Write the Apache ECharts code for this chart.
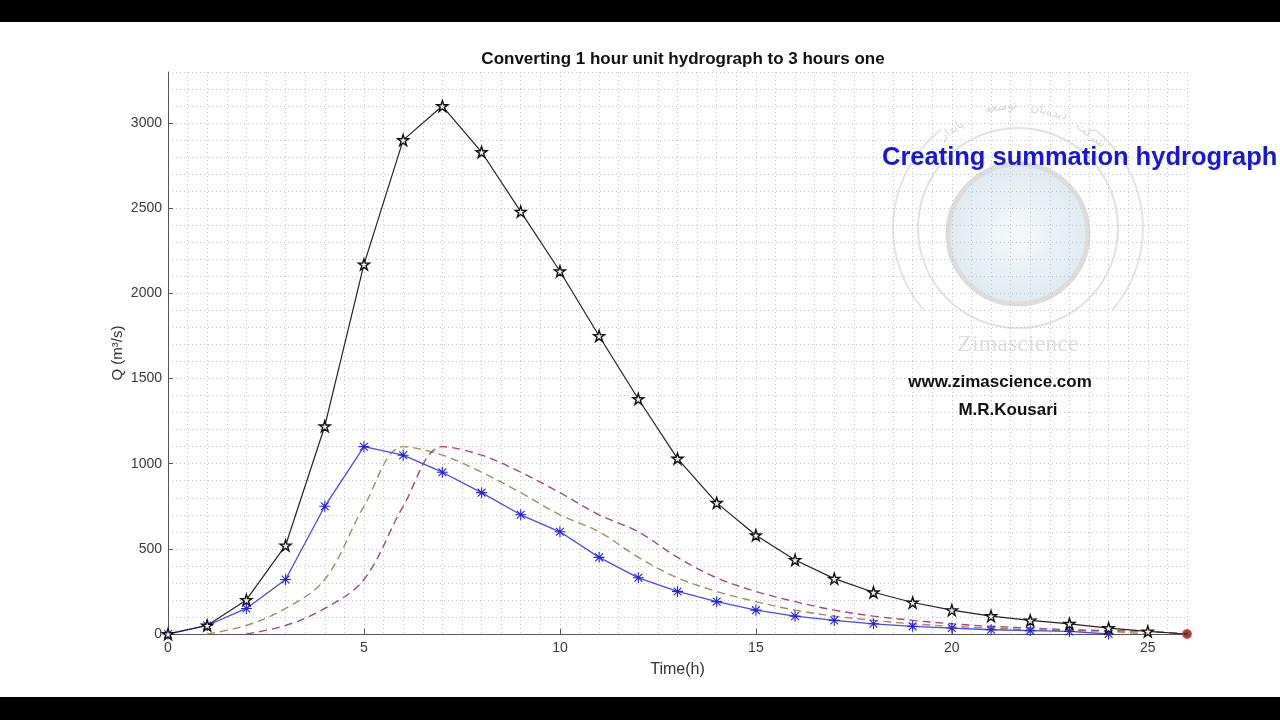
<!DOCTYPE html>
<html>
<head>
<meta charset="utf-8">
<script src="https://cdn.jsdelivr.net/npm/echarts@6/dist/echarts.min.js"></script>
<style>
html,body{margin:0;padding:0;background:#000;}
#c{width:1280px;height:720px;}
</style>
</head>
<body>
<div id="c"></div>
<script>
// ---- data ----
var hours = [0,1,2,3,4,5,6,7,8,9,10,11,12,13,14,15,16,17,18,19,20,21,22,23,24,25,26];
// 1-hour unit hydrograph (blue, t = 0..24)
var uh1Times = [0,1,2,3,4,5,6,7,8,9,10,11,12,13,14,15,16,17,18,19,20,21,22,23,24];
var uh1Q = [0,50,150,320,750,1100,1050,950,830,700,600,450,330,250,190,140,105,80,60,45,35,25,20,15,0];
// lagged by 1 hour (brown dashed, t = 1..25)
var lag1Times = [1,2,3,4,5,6,7,8,9,10,11,12,13,14,15,16,17,18,19,20,21,22,23,24,25];
var lag1Q = [0,50,150,320,750,1100,1050,950,830,700,600,450,330,250,190,140,105,80,60,45,35,25,20,15,0];
// lagged by 2 hours (purple dashed, t = 2..26)
var lag2Times = [2,3,4,5,6,7,8,9,10,11,12,13,14,15,16,17,18,19,20,21,22,23,24,25,26];
var lag2Q = [0,50,150,320,750,1100,1050,950,830,700,600,450,330,250,190,140,105,80,60,45,35,25,20,15,0];
// summation hydrograph (black stars, t = 0..26; last point has no star)
var sumQ = [0,50,200,520,1220,2170,2900,3100,2830,2480,2130,1750,1380,1030,770,580,435,325,245,185,140,105,80,60,35,15,0];
// end point marker (red circle)
var endTimes = [26];
var endQ = [0];
// axis ticks
var xTicks = [0,5,10,15,20,25];
var yTicks = [0,500,1000,1500,2000,2500,3000];

function pairs(ts, vs){ return ts.map(function(t,i){ return [t, vs[i]]; }); }

var asterisk = 'path://M0 9L20 9L20 11L0 11Z M9 0L11 0L11 20L9 20Z M2.2 3.6L3.6 2.2L17.8 16.4L16.4 17.8Z M16.4 2.2L17.8 3.6L3.6 17.8L2.2 16.4Z';
var pentagram = 'path://M10 0L12.25 6.91L19.51 6.91L13.63 11.18L15.88 18.09L10 13.82L4.12 18.09L6.37 11.18L0.49 6.91L7.75 6.91Z';

var chart = echarts.init(document.getElementById('c'), null, {renderer:'canvas'});
var axisCol = '#555';
var labCol = '#3a3a3a';
var FF = 'Liberation Sans, Arial, sans-serif';
var gridLine = {show:true, lineStyle:{color:'#c4c4c4', width:1, type:[1,3]}};

var sumData = pairs(hours, sumQ).map(function(p, i, arr){
  return i === arr.length - 1 ? {value:p, symbol:'none'} : p;
});

var cx = 1018, cy = 228;
function arcWord(txt, deg, r){
  var a = deg*Math.PI/180;
  return {type:'text', z:-10, x: cx + r*Math.cos(a), y: cy + r*Math.sin(a), rotation: -(deg+90)*Math.PI/180,
    style:{text:txt, fill:'#d6d6d6', font:'12px "DejaVu Sans"', align:'center', verticalAlign:'middle'}};
}

var option = {
  backgroundColor:'#fff',
  animation:false,
  title:{
    text:'Converting 1 hour unit hydrograph to 3 hours one',
    left:678, top:46, textAlign:'center',
    textStyle:{fontFamily:FF, fontSize:17, fontWeight:'bold', color:'#111'}
  },
  grid:{left:168, right:93, top:72, bottom:86, containLabel:false},
  xAxis:[
    {type:'value', min:0, max:26, interval:5, position:'bottom',
     axisLine:{show:true, onZero:false, lineStyle:{color:axisCol, width:1}},
     axisTick:{show:true, inside:true, length:5, customValues:xTicks, lineStyle:{color:axisCol}},
     axisLabel:{customValues:xTicks, color:labCol, fontSize:14, margin:7, fontFamily:FF,
       formatter:function(v){ return String(v); }},
     splitLine:{show:false},
     name:'Time(h)', nameLocation:'middle', nameGap:28,
     nameTextStyle:{color:'#333', fontSize:16, fontFamily:FF}
    },
    {type:'value', min:0, max:26, interval:0.5, position:'top',
     axisLine:{show:false}, axisTick:{show:false}, axisLabel:{show:false},
     splitLine:gridLine}
  ],
  yAxis:[
    {type:'value', min:0, max:3300, interval:500, position:'left',
     axisLine:{show:true, onZero:false, lineStyle:{color:axisCol, width:1}},
     axisTick:{show:true, inside:true, length:5, customValues:yTicks, lineStyle:{color:axisCol}},
     axisLabel:{customValues:yTicks, color:labCol, fontSize:14, margin:6, fontFamily:FF,
       formatter:function(v){ return String(v); }},
     splitLine:{show:false},
     name:'Q (m³/s)', nameLocation:'middle', nameGap:43, nameRotate:90, nameMoveOverlap:false,
     nameTextStyle:{color:'#333', fontSize:15, fontFamily:FF}
    },
    {type:'value', min:0, max:3300, interval:100, position:'right',
     axisLine:{show:false}, axisTick:{show:false}, axisLabel:{show:false},
     splitLine:gridLine}
  ],
  graphic:[
    {type:'rect', z:100, shape:{x:0,y:0,width:1280,height:22}, style:{fill:'#000'}},
    {type:'rect', z:100, shape:{x:0,y:697,width:1280,height:23}, style:{fill:'#000'}},
    // watermark
    {type:'arc', z:-10, shape:{cx:cx, cy:cy, r:125, startAngle:139*Math.PI/180, endAngle:232*Math.PI/180, clockwise:true}, style:{stroke:'#e4e4e4', lineWidth:2, fill:null}},
    {type:'arc', z:-10, shape:{cx:cx, cy:cy, r:125, startAngle:-52*Math.PI/180, endAngle:41*Math.PI/180, clockwise:true}, style:{stroke:'#e4e4e4', lineWidth:2, fill:null}},
    {type:'circle', z:-10, shape:{cx:cx, cy:cy, r:100}, style:{stroke:'#e2e2e2', lineWidth:2, fill:null}},
    {type:'circle', z:-10, shape:{cx:cx, cy:cy+6, r:70}, style:{stroke:'#dcdcdc', lineWidth:5,
      fill:{type:'radial', x:0.5, y:0.5, r:0.5, colorStops:[{offset:0,color:'#f6f9fb'},{offset:1,color:'#deeaf1'}]}}},
    {type:'text', z:-10, x:cx, y:345, style:{text:'Zimascience', fill:'#dedede', font:'24px "Liberation Serif", "DejaVu Serif", serif', align:'center', verticalAlign:'middle'}},
    arcWord('شرکت', -52, 118),
    arcWord('دیده‌بان', -75, 120),
    arcWord('توسعه', -98, 122),
    arcWord('پایدار', -124, 118),
    {type:'text', z:50, x:882, y:158, style:{text:'Creating summation hydrograph', fill:'#1717dc', font:'bold 25.5px "Liberation Sans", Arial, sans-serif', align:'left', verticalAlign:'middle'}},
    {type:'text', z:50, x:1000, y:382, style:{text:'www.zimascience.com', fill:'#111', font:'bold 17px "Liberation Sans", Arial, sans-serif', align:'center', verticalAlign:'middle'}},
    {type:'text', z:50, x:1008, y:410, style:{text:'M.R.Kousari', fill:'#111', font:'bold 17px "Liberation Sans", Arial, sans-serif', align:'center', verticalAlign:'middle'}}
  ],
  series:[
    {type:'line', name:'lag1', xAxisIndex:0, yAxisIndex:0, data:pairs(lag1Times, lag1Q), showSymbol:false, smooth:0.35,
     lineStyle:{color:'#a8895a', width:1.4, type:[8,5]}, z:3},
    {type:'line', name:'lag2', xAxisIndex:0, yAxisIndex:0, data:pairs(lag2Times, lag2Q), showSymbol:false, smooth:0.35,
     lineStyle:{color:'#a5477a', width:1.4, type:[8,5]}, z:3},
    {type:'line', name:'UH1', xAxisIndex:0, yAxisIndex:0, data:pairs(uh1Times, uh1Q), symbol:asterisk, symbolSize:11, showAllSymbol:true,
     lineStyle:{color:'#4a4ae6', width:1.3}, itemStyle:{color:'#2323e0'}, z:4},
    {type:'line', name:'Sum', xAxisIndex:0, yAxisIndex:0, data:sumData, symbol:pentagram, symbolSize:11, showAllSymbol:true,
     lineStyle:{color:'#222', width:1.2}, itemStyle:{color:'#eee', borderColor:'#111', borderWidth:1.4}, z:5},
    {type:'scatter', name:'end', xAxisIndex:0, yAxisIndex:0, data:pairs(endTimes, endQ), symbol:'circle', symbolSize:8,
     itemStyle:{color:'#5a2020', borderColor:'#e03030', borderWidth:2}, z:6}
  ]
};
chart.setOption(option);
</script>
</body>
</html>
